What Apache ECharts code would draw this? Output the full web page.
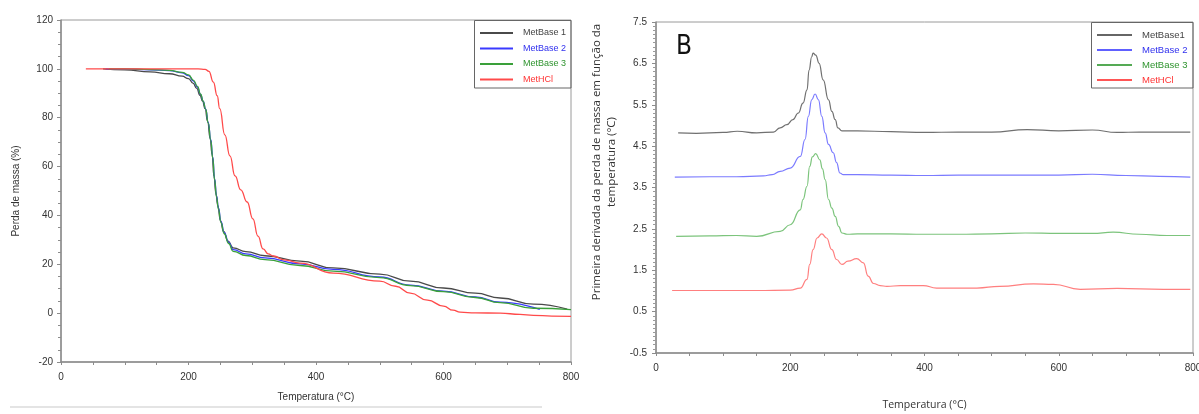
<!DOCTYPE html>
<html>
<head>
<meta charset="utf-8">
<script src="https://cdn.jsdelivr.net/npm/echarts@6/dist/echarts.min.js"></script>
<style>html,body{margin:0;padding:0;background:#fff}#c{width:1199px;height:414px}</style>
</head>
<body>
<div id="c"></div>
<script>
// ---------- Left chart (TGA) ----------
const tgaNames = ['MetBase 1', 'MetBase 2', 'MetBase 3', 'MetHCl'];
const tgaX1 = [66, 100, 140, 170, 190, 200, 207, 213, 218, 222, 226, 230, 234, 237, 240, 243, 246, 250, 255, 262, 270, 290, 320, 375, 427, 500, 548, 600, 650, 689, 741, 794];
const tgaY1 = [100, 99.6, 98.8, 98.0, 97.0, 96.0, 94.2, 92.0, 89.2, 86.8, 83.8, 78.5, 71.5, 65, 56, 49, 44, 38, 33.5, 29.5, 26.7, 25.2, 23.5, 21.3, 18.5, 16.0, 13.1, 10.3, 8.2, 6.2, 3.7, 1.6];
const tgaX2 = [70, 100, 140, 170, 190, 200, 208, 214, 219, 223, 227, 231, 235, 238, 241, 244, 247, 251, 256, 263, 270, 290, 320, 375, 427, 500, 548, 600, 650, 689, 751];
const tgaY2 = [100, 99.9, 99.6, 99.3, 98.4, 97.2, 95.0, 92.5, 89.5, 86.8, 83.5, 78, 71, 64, 55, 48, 43, 37.5, 33, 29, 26.0, 24.3, 22.6, 20.2, 17.9, 14.8, 11.5, 9.0, 6.6, 4.5, 1.5];
const tgaX3 = [75, 100, 140, 170, 190, 200, 208, 214, 219, 223, 227, 231, 235, 238, 241, 244, 247, 251, 256, 263, 270, 290, 320, 375, 427, 500, 548, 600, 650, 689, 741, 800];
const tgaY3 = [100, 100, 99.7, 99.4, 98.6, 97.5, 95.3, 92.8, 89.6, 86.8, 83.4, 77.8, 70.6, 63.5, 54.5, 47.5, 42.5, 37, 32.5, 28.5, 25.3, 23.6, 21.9, 19.5, 17.2, 14.5, 11.3, 8.8, 6.4, 4.3, 2.0, 1.4];
const tgaX4 = [39, 100, 150, 200, 215, 226, 232, 239, 245, 249, 257, 265, 273, 282, 292, 301, 309, 317, 325, 333, 350, 375, 427, 500, 525, 548, 575, 600, 615, 626, 650, 689, 720, 741, 770, 800];
const tgaY4 = [100, 100, 100, 100, 100, 99.8, 99.0, 94.6, 89, 83.7, 73, 64.4, 56.2, 50.5, 45.5, 38.6, 31.5, 26.3, 24.3, 23.4, 21.8, 20.5, 16.4, 13.1, 11.0, 8.2, 5.3, 2.9, 1.2, 0.4, 0.1, 0, -0.5, -0.9, -1.2, -1.3];

// ---------- Right chart (DTG) ----------
const dtgNames = ['MetBase1', 'MetBase 2', 'MetBase 3', 'MetHCl'];
const dtgX1 = [33, 60, 100, 121, 150, 175, 185, 195, 204, 212, 219, 225, 228, 232, 234, 238, 243, 249, 257, 262, 267, 271, 277, 300, 350, 400, 450, 500, 553, 600, 650, 687, 720, 760, 796];
const dtgY1 = [4.82, 4.81, 4.83, 4.86, 4.82, 4.84, 4.94, 5.02, 5.14, 5.30, 5.54, 5.86, 6.34, 6.66, 6.75, 6.70, 6.50, 6.10, 5.62, 5.34, 5.14, 4.94, 4.87, 4.87, 4.85, 4.83, 4.84, 4.84, 4.90, 4.87, 4.89, 4.83, 4.84, 4.84, 4.84];
const dtgX2 = [28, 80, 120, 160, 173, 185, 200, 215, 222, 227, 232, 237, 242, 247, 252, 257, 264, 269, 274, 279, 300, 350, 400, 450, 500, 550, 600, 650, 700, 750, 796];
const dtgY2 = [3.75, 3.76, 3.76, 3.78, 3.81, 3.89, 3.97, 4.25, 4.66, 5.22, 5.62, 5.76, 5.62, 5.22, 4.82, 4.54, 4.34, 4.10, 3.85, 3.81, 3.81, 3.80, 3.79, 3.80, 3.80, 3.80, 3.80, 3.82, 3.79, 3.77, 3.75];
const dtgX3 = [30, 80, 120, 150, 185, 200, 215, 219, 225, 229, 233, 238, 244, 248, 252, 257, 262, 267, 272, 277, 285, 300, 350, 400, 450, 500, 550, 600, 650, 681, 720, 761, 796];
const dtgY3 = [2.32, 2.33, 2.34, 2.32, 2.44, 2.60, 2.96, 3.21, 3.53, 4.01, 4.24, 4.32, 4.17, 3.95, 3.69, 3.21, 3.00, 2.80, 2.56, 2.40, 2.37, 2.38, 2.38, 2.37, 2.37, 2.38, 2.40, 2.39, 2.39, 2.42, 2.37, 2.34, 2.34];
const dtgX4 = [24, 100, 150, 200, 215, 225, 229, 234, 240, 247, 254, 262, 269, 277, 286, 299, 309, 316, 324, 334, 344, 364, 398, 418, 478, 512, 562, 592, 632, 687, 756, 796];
const dtgY4 = [1.01, 1.01, 1.01, 1.02, 1.07, 1.28, 1.64, 2.0, 2.28, 2.38, 2.28, 2.0, 1.76, 1.64, 1.72, 1.78, 1.68, 1.36, 1.18, 1.13, 1.11, 1.13, 1.13, 1.07, 1.07, 1.11, 1.17, 1.16, 1.04, 1.06, 1.04, 1.04];

const xTicks = [0, 200, 400, 600, 800];
const tgaTicks = [-20, 0, 20, 40, 60, 80, 100, 120];
const dtgTicks = [-0.5, 0.5, 1.5, 2.5, 3.5, 4.5, 5.5, 6.5, 7.5];

const pairs = (xs, ys) => xs.map((x, i) => [x, ys[i]]);

const leftColors = ['#4a4a4a', '#3a3aff', '#3aa03a', '#ff4a4a'];
const leftText = ['#444444', '#3030ee', '#2f942f', '#ff3333'];
const rightColors = ['#707070', '#7b7bff', '#7cc47c', '#ff7f7f'];
const rightLegend = ['#666666', '#6060ff', '#55aa55', '#ff5555'];
const rightText = ['#444444', '#3030ee', '#2f942f', '#ff3333'];

const tgaData = [pairs(tgaX1, tgaY1), pairs(tgaX2, tgaY2), pairs(tgaX3, tgaY3), pairs(tgaX4, tgaY4)];
const dtgData = [pairs(dtgX1, dtgY1), pairs(dtgX2, dtgY2), pairs(dtgX3, dtgY3), pairs(dtgX4, dtgY4)];

const font = 'Liberation Sans, Arial, sans-serif';
const axisLineStyle = { lineStyle: { color: '#8c8c8c', width: 1.5 } };

function xAxisDef(gridIndex, nameGap, nameFont, nameSize) {
  return {
    type: 'value', gridIndex, min: 0, max: 800, interval: 200,
    name: 'Temperatura (°C)', nameLocation: 'middle', nameGap,
    nameTextStyle: { fontFamily: nameFont, fontSize: nameSize, color: '#333' },
    axisLine: { onZero: false, ...axisLineStyle },
    axisTick: { show: true, length: 3, lineStyle: { color: '#8c8c8c' } },
    minorTick: { show: true, splitNumber: 4, length: 3, lineStyle: { color: '#8c8c8c' } },
    axisLabel: { fontFamily: font, fontSize: 10, color: '#333', margin: 10,
      formatter: v => xTicks.includes(v) ? String(v) : '' },
    splitLine: { show: false }
  };
}

const series = [];
tgaData.forEach((d, i) => series.push({
  name: tgaNames[i], type: 'line', xAxisIndex: 0, yAxisIndex: 0, data: d,
  showSymbol: false, smooth: 0.5, smoothMonotone: 'x',
  lineStyle: { color: leftColors[i], width: 1.3 }, itemStyle: { color: leftColors[i] },
  z: i === 3 ? 3 : 2
}));
dtgData.forEach((d, i) => series.push({
  name: dtgNames[i], type: 'line', xAxisIndex: 1, yAxisIndex: 1, data: d,
  showSymbol: false, smooth: 0.5, smoothMonotone: 'x',
  lineStyle: { color: rightColors[i], width: 1.2 }, itemStyle: { color: rightColors[i] }
}));

const chart = echarts.init(document.getElementById('c'), null, { renderer: 'canvas' });
chart.setOption({
  animation: false,
  backgroundColor: '#fff',
  title: { text: 'B', left: 671, top: 29, padding: 5,
    textStyle: { fontFamily: 'Liberation Sans Narrow, DejaVu Sans Condensed, sans-serif', fontSize: 26, fontWeight: 'normal', color: '#111' } },
  grid: [
    { left: 61, top: 20, right: 628, bottom: 52, outerBoundsMode: 'none', show: true, borderColor: '#9a9a9a', borderWidth: 1, backgroundColor: 'transparent' },
    { left: 656, top: 22, right: 6, bottom: 61, outerBoundsMode: 'none', show: true, borderColor: '#9a9a9a', borderWidth: 1, backgroundColor: 'transparent' }
  ],
  xAxis: [
    xAxisDef(0, 30, font, 10),
    xAxisDef(1, 47, 'Open Sans, sans-serif', 10.5)
  ],
  yAxis: [
    { type: 'value', gridIndex: 0, min: -20, max: 120, interval: 20,
      name: 'Perda de massa (%)', nameLocation: 'middle', nameGap: 40,
      nameTextStyle: { fontFamily: font, fontSize: 10, color: '#333' },
      axisLine: { show: true, onZero: false, ...axisLineStyle },
      axisTick: { show: true, length: 4, lineStyle: { color: '#8c8c8c' } },
      minorTick: { show: true, splitNumber: 4, length: 3, lineStyle: { color: '#8c8c8c' } },
      axisLabel: { fontFamily: font, fontSize: 10, color: '#333', margin: 8,
        formatter: v => tgaTicks.includes(v) ? String(v) : '' },
      splitLine: { show: false } },
    { type: 'value', gridIndex: 1, min: -0.5, max: 7.5, interval: 1,
      axisLine: { show: true, onZero: false, ...axisLineStyle },
      axisTick: { show: true, length: 4, lineStyle: { color: '#8c8c8c' } },
      minorTick: { show: true, splitNumber: 10, length: 3, lineStyle: { color: '#9a9a9a' } },
      axisLabel: { fontFamily: font, fontSize: 10, color: '#333', margin: 9,
        formatter: v => { const t = dtgTicks.find(k => Math.abs(k - v) < 1e-6); return t === undefined ? '' : t.toFixed(1); } },
      splitLine: { show: false } }
  ],
  legend: [
    { orient: 'vertical', left: 480, top: 27, padding: 0, icon: 'rect', itemWidth: 33, itemHeight: 2, itemGap: 3.5,
      selectedMode: false,
      textStyle: { fontFamily: font, fontSize: 9, lineHeight: 12, padding: [0, 0, 0, 5] },
      data: tgaNames.map((n, i) => ({ name: n, itemStyle: { color: leftColors[i] }, textStyle: { color: leftText[i] } })) },
    { orient: 'vertical', left: 1097, top: 29, padding: 0, icon: 'rect', itemWidth: 35, itemHeight: 2, itemGap: 3,
      selectedMode: false,
      textStyle: { fontFamily: font, fontSize: 9.5, lineHeight: 12, padding: [0, 0, 0, 5] },
      data: dtgNames.map((n, i) => ({ name: n, itemStyle: { color: rightLegend[i] }, textStyle: { color: rightText[i] } })) }
  ],
  graphic: [
    { type: 'rect', shape: { x: 474.5, y: 20.5, width: 96.5, height: 67.5 }, style: { fill: 'none', stroke: '#666', lineWidth: 1 }, z: 10 },
    { type: 'rect', shape: { x: 1091.5, y: 22.5, width: 101.5, height: 65.5 }, style: { fill: 'none', stroke: '#666', lineWidth: 1 }, z: 10 },
    { type: 'line', shape: { x1: 10, y1: 407, x2: 542, y2: 407 }, style: { stroke: '#e4e4e4', lineWidth: 2 } },
    { type: 'text', x: 604, y: 162, rotation: Math.PI / 2,
      style: { text: 'Primeira derivada da perda de massa em função da\ntemperatura (°C)', textAlign: 'center', textVerticalAlign: 'middle',
        fontFamily: 'Open Sans, sans-serif', fontSize: 11.5, lineHeight: 15, fill: '#333' } }
  ],
  series
});
</script>
</body>
</html>
